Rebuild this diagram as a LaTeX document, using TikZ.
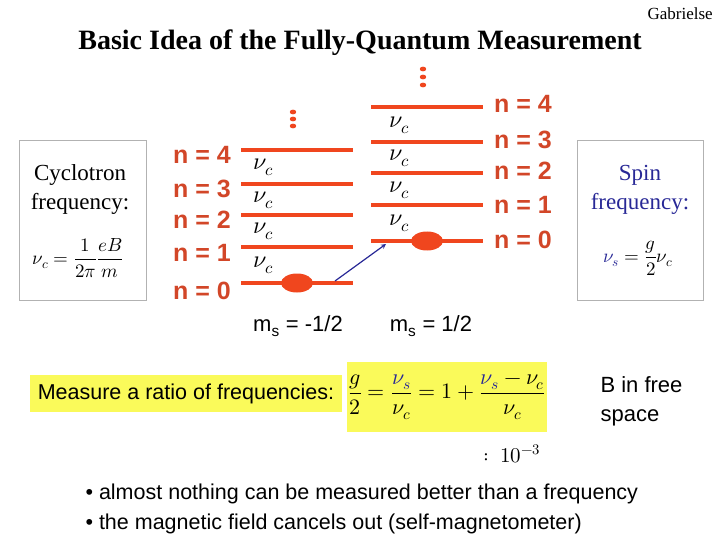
\documentclass[tikz,border=0pt]{standalone}
\usepackage{fontspec}
\setmainfont{Liberation Serif}
\newfontfamily\arial{Liberation Sans}
\usepackage{unicode-math}
\setmathfont{Latin Modern Math}
\begin{document}
\begin{tikzpicture}[x=1pt,y=-1pt,
 lvl/.style={draw=lred,line width=3.5pt},
 lab/.style={text=nred,font=\arial\bfseries\fontsize{25}{28}\selectfont},
 nu/.style={font=\fontsize{24}{26}\selectfont},
]
\definecolor{lred}{RGB}{240,70,30}
\definecolor{nred}{RGB}{210,70,40}
\definecolor{yel}{RGB}{250,250,90}
\definecolor{nblue}{RGB}{40,40,150}
\useasboundingbox (0,0) rectangle (720,540);
\node[anchor=north west,font=\fontsize{17}{19}\selectfont] (auth) at (644,4) {Gabrielse};
\node[font=\bfseries\fontsize{28}{32}\selectfont] (title) at (360,43) {Basic Idea of the Fully-Quantum Measurement};
\foreach \y/\n in {150/a,184/b,215/c,247/d,283/e}{\coordinate (L\n1) at (241,\y); \coordinate (L\n2) at (353,\y); \draw[lvl] (L\n1) -- (L\n2);}
\foreach \y/\n in {107/a,142/b,173/c,205/d,241/e}{\coordinate (R\n1) at (371,\y); \coordinate (R\n2) at (483,\y); \draw[lvl] (R\n1) -- (R\n2);}
\foreach \y in {112,119,126} \fill[lred] (293,\y) ellipse (3.2 and 2.4);
\foreach \y in {69,77,85} \fill[lred] (423,\y) ellipse (3.2 and 2.4);
\foreach \y/\i in {167/1,200/2,231/3,265/4}{\node[nu] (lnu\i) at (264,\y) {$\nu_c$};}
\foreach \y/\i in {125/1,158/2,190/3,223/4}{\node[nu] (rnu\i) at (400,\y) {$\nu_c$};}
\fill[lred] (297,283) ellipse (16 and 9.5);
\fill[lred] (427,241) ellipse (16 and 9.5);
\coordinate (as) at (335,281); \coordinate (ae) at (386,244);
\draw[nblue,line width=1.2pt,-stealth] (as) -- (ae);
\foreach \y/\k in {155/4,189/3,220/2,253/1,291/0}{\node[lab] (ln\k) at (202,\y) {n = \k};}
\foreach \y/\k in {104/4,140/3,171/2,205/1,240/0}{\node[lab] (rn\k) at (523,\y) {n = \k};}
\node[font=\arial\fontsize{22}{25}\selectfont] (ms1) at (298,326) {m\textsubscript{s} = -1/2};
\node[font=\arial\fontsize{22}{25}\selectfont] (ms2) at (431,326) {m\textsubscript{s} = 1/2};
\draw[gray!60,line width=0.8pt] (19,140) rectangle (146,300);
\node[align=center,font=\fontsize{23}{29}\selectfont] (cyc) at (80,190) {Cyclotron\\frequency:};
\node[font=\fontsize{19}{22}\selectfont] (cf) at (78,258) {$\nu_c=\dfrac{1}{2\pi}\dfrac{eB}{m}$};
\draw[gray!60,line width=0.8pt] (577,140) rectangle (703,300);
\node[align=center,text=nblue,font=\fontsize{23}{29}\selectfont] (spin) at (640,190) {Spin\\frequency:};
\node[font=\fontsize{19}{22}\selectfont] (sf) at (638,258) {$\textcolor{nblue}{\nu_s}=\dfrac{g}{2}\nu_c$};
\node[fill=yel,minimum width=312pt,minimum height=37pt,font=\arial\fontsize{21.5}{24}\selectfont] (meas) at (186,393.5) {Measure a ratio of frequencies:};
\node[fill=yel,minimum width=198pt,minimum height=70pt,inner sep=1pt,font=\fontsize{22}{24}\selectfont] (frm) at (447,397) {$\dfrac{g}{2}=\dfrac{\textcolor{nblue}{\nu_s}}{\nu_c}=1+\dfrac{\textcolor{nblue}{\nu_s}-\nu_c}{\nu_c}$};
\node[font=\fontsize{21}{24}\selectfont] (ord) at (512,454) {$:\ 10^{-3}$};
\node[align=left,anchor=west,font=\arial\fontsize{22}{29}\selectfont] (bfree) at (597,401) {B in free\\space};
\node[align=left,anchor=west,font=\arial\fontsize{21.5}{30}\selectfont] (bul) at (82,509) {• almost nothing can be measured better than a frequency\\• the magnetic field cancels out (self-magnetometer)};
\end{tikzpicture}
\end{document}
